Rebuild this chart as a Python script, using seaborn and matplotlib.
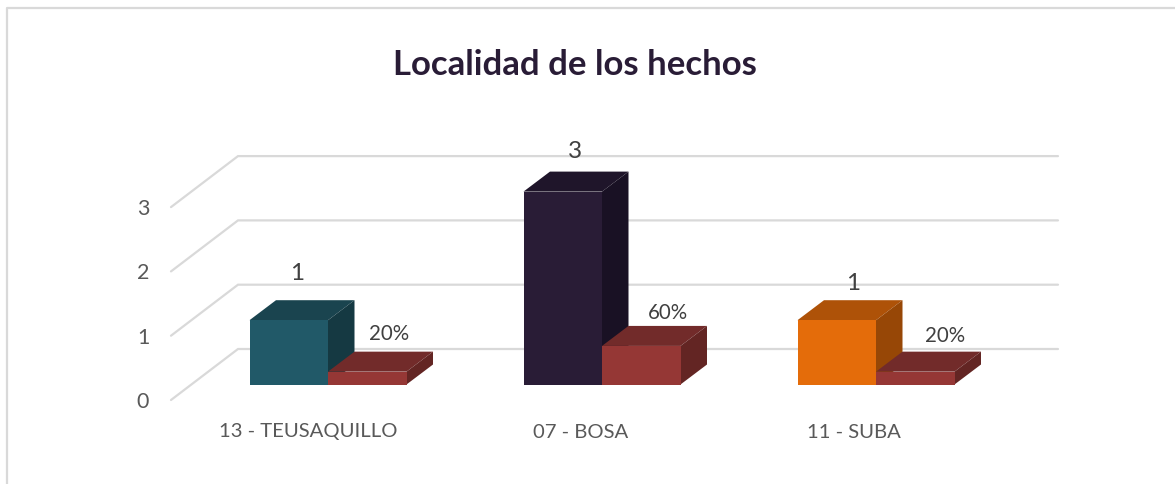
# Localidad de los hechos - faux 3D bars like the Excel chart

import pandas as pd
import matplotlib
matplotlib.use("Agg")
import matplotlib.pyplot as plt
from matplotlib.patches import Polygon
import seaborn as sns

localidades = ["13 - TEUSAQUILLO", "07 - BOSA", "11 - SUBA"]
casos = [1, 3, 1]
porcentajes = [0.2, 0.6, 0.2]
etiquetas_pct = ["20%", "60%", "20%"]
y_ticks = [0, 1, 2, 3]

colores_casos = ["#215968", "#291C36", "#E46C0A"]
tapas_casos = ["#1A444F", "#1F152A", "#AE5208"]
lados_casos = ["#153942", "#191124", "#974706"]
color_pct, tapa_pct, lado_pct = "#953735", "#722B2A", "#632523"

W, H = 1175, 484
X0, X_STEP = 328, 274.0     # pixel of first category, pixels between categories
Y0, Y_STEP = 384.5, 64.3    # pixel of value 0, pixels per unit


def dx(px):
    return px / X_STEP


def dy(px):
    return px / Y_STEP


def xp(px):
    return (px - X0) / X_STEP


def yp(px):
    return (Y0 - px) / Y_STEP


sns.set_theme(style="white")
plt.rcParams["font.family"] = ["Lato", "DejaVu Sans"]

df = pd.DataFrame({
    "localidad": localidades * 2,
    "valor": casos + porcentajes,
    "serie": ["casos"] * 3 + ["porcentaje"] * 3,
})

fig = plt.figure(figsize=(W / 100, H / 100), dpi=100)
ax = fig.add_axes([0, 0, 1, 1])
sns.barplot(data=df, x="localidad", y="valor", hue="serie", order=localidades,
            hue_order=["casos", "porcentaje"], width=157 / X_STEP, gap=0,
            palette=[color_pct, color_pct], legend=False, ax=ax)
ax.set_xlim(xp(0), xp(W))
ax.set_ylim(yp(H), yp(0))
ax.axis("off")

# outer frame, only top and left show
ax.plot([xp(W), xp(6.5), xp(6.5)], [yp(8), yp(8), yp(H)],
        color="#D9D9D9", lw=1.6, zorder=1, clip_on=False)

# floor/wall gridlines
for t in y_ticks:
    base = yp(400) + t
    ax.plot([xp(171), xp(238), xp(1058)],
            [base, base + dy(51), base + dy(51)],
            color="#D9D9D9", lw=1.6, zorder=1, solid_joinstyle="miter")
    ax.text(xp(143), base - dy(2), str(t), ha="center", va="center",
            fontsize=15.5, color="#595959")


def caja(bar, frente, tapa, lado, z):
    # depth faces are built from the bar that seaborn drew
    x1, x2 = bar.get_x(), bar.get_x() + bar.get_width()
    h = bar.get_height()
    ox, oy = dx(26.5), dy(20)
    ax.add_patch(Polygon([(x1, h), (x2, h), (x2 + ox, h + oy), (x1 + ox, h + oy)],
                         facecolor=tapa, edgecolor="none", zorder=z))
    ax.add_patch(Polygon([(x2, 0), (x2 + ox, oy), (x2 + ox, h + oy), (x2, h)],
                         facecolor=lado, edgecolor="none", zorder=z))
    bar.set_facecolor(frente)
    bar.set_edgecolor("none")
    bar.set_zorder(z + 0.5)


for i, bar in enumerate(ax.containers[0]):
    caja(bar, colores_casos[i], tapas_casos[i], lados_casos[i], 3)
for bar in ax.containers[1]:
    caja(bar, color_pct, tapa_pct, lado_pct, 4)

# value labels
offs_casos = [(297, 274), (575, 151), (853, 283)]
offs_pct = [(389, 334), (668, 313), (945, 336)]
for v, (px, py) in zip(casos, offs_casos):
    ax.text(xp(px), yp(py), str(v), ha="center", va="center",
            fontsize=17.5, color="#404040", zorder=6)
for s, (px, py) in zip(etiquetas_pct, offs_pct):
    ax.text(xp(px), yp(py), s, ha="center", va="center",
            fontsize=14.8, color="#404040", zorder=6)

# category labels, shifted left as in the 3D projection
for nombre, px in zip(localidades, [308, 581, 854]):
    ax.text(xp(px), yp(432), nombre, ha="center", va="center",
            fontsize=14.6, color="#595959")

ax.text(xp(575), yp(65), "Localidad de los hechos", ha="center", va="center",
        fontsize=25, fontweight="bold", color="#291C36")

fig.savefig("out.png", dpi=100)
